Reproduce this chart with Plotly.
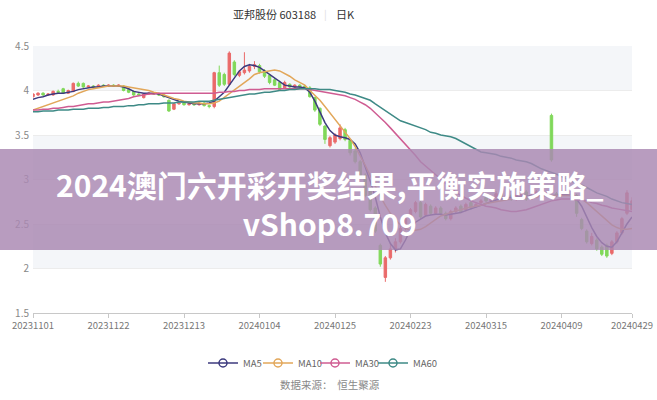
import pandas as pd
import plotly.graph_objects as go

# ---------------- data ----------------
holidays = ["20240101", "20240209", "20240212", "20240213", "20240214",
            "20240215", "20240216", "20240404", "20240405"]
dates = [d.strftime("%Y%m%d") for d in pd.bdate_range("2023-11-01", "2024-04-29")
         if d.strftime("%Y%m%d") not in holidays]

tick_labels = ["20231101", "20231122", "20231213", "20240104", "20240125",
               "20240223", "20240315", "20240409", "20240429"]
y_ticks = [1.5, 2, 2.5, 3, 3.5, 4, 4.5]
y_tick_text = ["1.5", "2", "2.5", "3", "3.5", "4", "4.5"]

opens = [3.93, 3.95, 3.97, 3.95, 3.95, 3.99, 4.02, 3.97, 3.99, 4.08,
         4.08, 4.04, 4.05, 4.04, 4.06, 4.05, 4.06, 4.05, 4.05, 4.01,
         3.99, 3.96, 3.92, 3.96, 3.97, 3.96, 3.95, 3.89, 3.79, 3.85,
         3.86, 3.84, 3.85, 3.84, 3.86, 3.83, 3.82, 4.20, 4.18, 4.07,
         4.32, 4.17, 4.20, 4.22, 4.27, 4.28, 4.22, 4.17, 4.12, 4.09,
         4.03, 4.07, 4.04, 4.06, 4.05, 4.03, 3.92, 3.80, 3.60, 3.38,
         3.42, 3.46, 3.56, 3.44, 3.32, 3.20, 3.05, 2.90, 2.68, 2.26,
         1.90, 2.12, 2.22, 2.30, 2.45, 2.56, 2.64, 2.74, 2.60, 2.70,
         2.62, 2.68, 2.62, 2.56, 2.64, 2.70, 2.66, 2.74, 2.70, 2.74,
         2.80, 2.76, 2.80, 2.84, 2.80, 2.82, 2.78, 2.82, 2.86, 2.78,
         2.80, 2.86, 2.82, 3.72, 2.84, 2.82, 2.84, 2.80, 2.82, 2.55,
         2.42, 2.28, 2.32, 2.24, 2.26, 2.17, 2.30, 2.40, 2.62, 2.66]
closes = [3.96, 3.97, 3.95, 3.96, 3.99, 3.98, 3.97, 4.00, 4.08, 4.05,
          4.04, 4.05, 4.04, 4.06, 4.05, 4.06, 4.05, 4.06, 4.00, 3.98,
          3.95, 3.95, 3.96, 3.97, 3.96, 3.95, 3.93, 3.77, 3.85, 3.86,
          3.84, 3.85, 3.84, 3.86, 3.83, 3.82, 4.20, 4.06, 4.07, 4.42,
          4.18, 4.21, 4.23, 4.27, 4.29, 4.21, 4.16, 4.09, 4.06, 4.01,
          4.09, 4.04, 4.06, 4.04, 4.03, 3.93, 3.78, 3.62, 3.45, 3.47,
          3.50, 3.58, 3.45, 3.30, 3.20, 3.04, 2.82, 2.66, 2.42, 2.05,
          2.12, 2.22, 2.30, 2.45, 2.56, 2.66, 2.74, 2.58, 2.72, 2.62,
          2.68, 2.62, 2.56, 2.64, 2.68, 2.64, 2.72, 2.68, 2.72, 2.76,
          2.76, 2.80, 2.84, 2.80, 2.82, 2.78, 2.82, 2.86, 2.78, 2.82,
          2.86, 2.82, 2.84, 3.22, 2.82, 2.84, 2.86, 2.88, 2.62, 2.45,
          2.30, 2.36, 2.22, 2.16, 2.14, 2.30, 2.40, 2.56, 2.85, 2.76]
highs = [3.97, 3.98, 3.98, 3.97, 4.00, 4.01, 4.03, 4.01, 4.09, 4.10,
         4.09, 4.06, 4.06, 4.07, 4.07, 4.07, 4.07, 4.07, 4.06, 4.02,
         4.00, 3.97, 3.97, 3.98, 3.98, 3.97, 3.96, 3.90, 3.86, 3.87,
         3.87, 3.86, 3.86, 3.87, 3.87, 3.84, 4.21, 4.28, 4.20, 4.44,
         4.34, 4.23, 4.43, 4.30, 4.33, 4.30, 4.24, 4.18, 4.14, 4.11,
         4.11, 4.08, 4.07, 4.07, 4.06, 4.05, 3.93, 3.81, 3.61, 3.49,
         3.52, 3.62, 3.58, 3.45, 3.35, 3.22, 3.07, 2.92, 2.70, 2.28,
         2.14, 2.29, 2.34, 2.48, 2.58, 2.68, 2.76, 2.76, 2.74, 2.72,
         2.70, 2.70, 2.64, 2.66, 2.70, 2.72, 2.74, 2.76, 2.74, 2.78,
         2.82, 2.82, 2.87, 2.86, 2.84, 2.84, 2.84, 2.88, 2.88, 2.84,
         2.88, 2.88, 2.86, 3.74, 2.86, 2.86, 2.88, 2.90, 2.84, 2.57,
         2.44, 2.40, 2.34, 2.26, 2.28, 2.32, 2.42, 2.58, 2.88, 2.80]
lows = [3.92, 3.94, 3.94, 3.94, 3.94, 3.97, 3.96, 3.96, 3.98, 4.04,
        4.03, 4.03, 4.03, 4.03, 4.04, 4.04, 4.04, 4.04, 3.99, 3.97,
        3.94, 3.94, 3.91, 3.95, 3.95, 3.94, 3.92, 3.76, 3.78, 3.84,
        3.83, 3.83, 3.83, 3.83, 3.82, 3.80, 3.80, 4.04, 4.05, 4.06,
        4.16, 4.15, 4.18, 4.20, 4.24, 4.19, 4.14, 4.07, 4.05, 4.00,
        4.02, 4.03, 4.03, 4.03, 4.02, 3.92, 3.76, 3.60, 3.40, 3.36,
        3.40, 3.44, 3.43, 3.27, 3.18, 3.02, 2.80, 2.64, 2.40, 2.02,
        1.85, 2.10, 2.18, 2.28, 2.43, 2.54, 2.62, 2.56, 2.58, 2.60,
        2.60, 2.60, 2.54, 2.54, 2.62, 2.62, 2.64, 2.66, 2.68, 2.72,
        2.74, 2.74, 2.78, 2.78, 2.78, 2.76, 2.76, 2.80, 2.76, 2.77,
        2.79, 2.80, 2.80, 3.20, 2.80, 2.80, 2.82, 2.78, 2.58, 2.43,
        2.28, 2.26, 2.20, 2.14, 2.12, 2.15, 2.28, 2.38, 2.60, 2.66]

ma5 = [3.90, 3.92, 3.93, 3.95, 3.96, 3.97, 3.97, 3.98, 3.99, 4.01,
       4.02, 4.03, 4.04, 4.04, 4.05, 4.05, 4.05, 4.05, 4.04, 4.02,
       3.99, 3.98, 3.97, 3.97, 3.97, 3.96, 3.94, 3.92, 3.90, 3.88,
       3.87, 3.86, 3.85, 3.85, 3.85, 3.86, 3.88, 3.93, 3.98, 4.06,
       4.14, 4.22, 4.27, 4.29, 4.28, 4.26, 4.22, 4.18, 4.13, 4.09,
       4.06, 4.05, 4.04, 4.04, 4.03, 3.98, 3.88, 3.76, 3.64, 3.55,
       3.50, 3.48, 3.47, 3.45, 3.40, 3.30, 3.15, 2.98, 2.80, 2.58,
       2.40, 2.28, 2.21, 2.22, 2.32, 2.44, 2.52, 2.56, 2.59, 2.60,
       2.61, 2.61, 2.60, 2.61, 2.62, 2.63, 2.65, 2.67, 2.69, 2.71,
       2.73, 2.75, 2.77, 2.78, 2.79, 2.80, 2.80, 2.81, 2.81, 2.82,
       2.82, 2.82, 2.82, 2.82, 2.82, 2.83, 2.83, 2.82, 2.78, 2.70,
       2.58, 2.46, 2.36, 2.29, 2.25, 2.24, 2.30, 2.40, 2.50, 2.58]
ma10 = [3.78, 3.80, 3.82, 3.84, 3.86, 3.88, 3.90, 3.92, 3.94, 3.97,
        3.99, 4.01, 4.02, 4.03, 4.04, 4.05, 4.05, 4.05, 4.05, 4.04,
        4.03, 4.02, 4.01, 4.00, 3.98, 3.97, 3.95, 3.93, 3.91, 3.90,
        3.88, 3.87, 3.86, 3.86, 3.85, 3.85, 3.86, 3.88, 3.92, 3.97,
        4.01, 4.05, 4.09, 4.13, 4.18, 4.20, 4.21, 4.22, 4.23, 4.22,
        4.19, 4.16, 4.12, 4.09, 4.06, 4.00, 3.95, 3.89, 3.82, 3.75,
        3.68, 3.61, 3.54, 3.46, 3.37, 3.27, 3.16, 3.04, 2.92, 2.81,
        2.71, 2.62, 2.55, 2.49, 2.45, 2.43, 2.43, 2.44, 2.47, 2.51,
        2.56, 2.59, 2.61, 2.63, 2.65, 2.66, 2.68, 2.69, 2.70, 2.71,
        2.73, 2.74, 2.75, 2.76, 2.77, 2.78, 2.79, 2.80, 2.80, 2.81,
        2.81, 2.81, 2.82, 2.82, 2.82, 2.82, 2.82, 2.82, 2.81, 2.78,
        2.74, 2.69, 2.64, 2.58, 2.53, 2.49, 2.46, 2.44, 2.44, 2.45]
ma30 = [3.78, 3.78, 3.79, 3.79, 3.80, 3.80, 3.81, 3.82, 3.82, 3.83,
        3.84, 3.85, 3.85, 3.86, 3.87, 3.87, 3.88, 3.89, 3.90, 3.91,
        3.93, 3.94, 3.95, 3.96, 3.96, 3.97, 3.97, 3.97, 3.97, 3.97,
        3.97, 3.97, 3.97, 3.97, 3.97, 3.97, 3.97, 3.98, 3.98, 3.99,
        3.99, 4.00, 4.00, 4.01, 4.01, 4.01, 4.02, 4.02, 4.02, 4.02,
        4.02, 4.02, 4.02, 4.02, 4.02, 4.01, 4.00, 3.99, 3.98, 3.97,
        3.96, 3.95, 3.94, 3.92, 3.90, 3.87, 3.84, 3.80, 3.75, 3.69,
        3.64, 3.58, 3.52, 3.45, 3.39, 3.33, 3.27, 3.20, 3.15, 3.10,
        3.05, 3.00, 2.95, 2.91, 2.86, 2.82, 2.79, 2.76, 2.74, 2.72,
        2.70, 2.69, 2.68, 2.66, 2.65, 2.64, 2.64, 2.65, 2.66, 2.68,
        2.70, 2.72, 2.74, 2.76, 2.77, 2.78, 2.78, 2.78, 2.77, 2.77,
        2.76, 2.74, 2.73, 2.71, 2.70, 2.68, 2.67, 2.66, 2.65, 2.64]
ma60 = [3.76, 3.76, 3.77, 3.77, 3.77, 3.78, 3.78, 3.78, 3.79, 3.79,
        3.79, 3.80, 3.80, 3.80, 3.81, 3.81, 3.82, 3.82, 3.82, 3.83,
        3.83, 3.84, 3.84, 3.85, 3.85, 3.85, 3.86, 3.86, 3.86, 3.87,
        3.87, 3.87, 3.87, 3.88, 3.88, 3.88, 3.89, 3.90, 3.91, 3.92,
        3.93, 3.94, 3.95, 3.96, 3.96, 3.97, 3.98, 3.98, 3.99, 4.00,
        4.00, 4.01, 4.01, 4.02, 4.02, 4.02, 4.02, 4.01, 4.01, 4.01,
        4.00, 3.99, 3.98, 3.96, 3.95, 3.93, 3.91, 3.89, 3.85, 3.81,
        3.77, 3.73, 3.69, 3.66, 3.64, 3.62, 3.60, 3.58, 3.56, 3.53,
        3.52, 3.50, 3.49, 3.48, 3.46, 3.43, 3.40, 3.37, 3.34, 3.31,
        3.30, 3.29, 3.28, 3.26, 3.25, 3.24, 3.22, 3.21, 3.20, 3.18,
        3.15, 3.12, 3.10, 3.08, 3.06, 3.03, 3.01, 2.98, 2.96, 2.94,
        2.91, 2.88, 2.85, 2.83, 2.81, 2.78, 2.76, 2.74, 2.73, 2.72]

ma_names = ["MA5", "MA10", "MA30", "MA60"]
ma_series = [ma5, ma10, ma30, ma60]
ma_colors = ["#3c3a7e", "#e2a75a", "#cf5c92", "#3e8a86"]

# ---------------- figure ----------------
W, H = 657, 400
PL, PR, PT, PB = 33, 632, 46, 313    # plot area in pixels
PW, PH = PR - PL, PB - PT


def px_x(p):
    return (p - PL) / PW


def px_y(p):
    return (PB - p) / PH


fig = go.Figure()

fig.add_trace(go.Candlestick(
    x=dates, open=opens, high=highs, low=lows, close=closes,
    increasing=dict(line=dict(color="#ea6a6a", width=1), fillcolor="#ea6a6a"),
    decreasing=dict(line=dict(color="#80d85a", width=1), fillcolor="#80d85a"),
    whiskerwidth=0, showlegend=False, hoverinfo="skip",
))

legend_ids = ["legend", "legend2", "legend3", "legend4"]
legend_sym_centers = [225, 280, 337, 395]
for name, vals, col, lid in zip(ma_names, ma_series, ma_colors, legend_ids):
    fig.add_trace(go.Scatter(x=dates, y=vals, mode="lines", name=name,
                             line=dict(color=col, width=1.5), showlegend=False,
                             hoverinfo="skip"))
    fig.add_trace(go.Scatter(x=[None], y=[None], mode="lines+markers", name=name,
                             line=dict(color=col, width=1.5),
                             marker=dict(symbol="circle-open", size=8, color=col,
                                         line=dict(width=1.5, color=col)),
                             showlegend=True, legend=lid))

shapes = []
for lo, hi in [(4.0, 4.5), (3.0, 3.5), (2.0, 2.5)]:
    shapes.append(dict(type="rect", xref="paper", yref="y", x0=0, x1=1, y0=lo, y1=hi,
                       fillcolor="#f4f6f9", line=dict(width=0), layer="below"))
# promotional banner across the full width
shapes.append(dict(type="rect", xref="paper", yref="paper",
                   x0=px_x(0), x1=px_x(W), y0=px_y(250), y1=px_y(149),
                   fillcolor="rgba(170,136,178,0.83)", line=dict(width=0), layer="above"))


def ann(text, x, y, size, color, **kw):
    return dict(text=text, x=px_x(x), y=px_y(y), xref="paper", yref="paper",
                xanchor="center", yanchor="middle", showarrow=False, borderpad=0,
                font=dict(size=size, color=color, family="Noto Sans CJK SC"), **kw)


annotations = [
    ann("亚邦股份 603188", 274, 14, 11, "#333"),
    ann("|", 325, 14, 10, "#ddd"),
    ann("日K", 345, 14, 11, "#333"),
    ann("数据来源：  恒生聚源", 330, 384, 10.5, "#888"),
    ann("<b>2024澳门六开彩开奖结果,平衡实施策略_<br>vShop8.709</b>", 330, 203, 30, "white"),
]

legend_layout = {}
for lid, cx in zip(legend_ids, legend_sym_centers):
    legend_layout[lid] = dict(orientation="h", x=px_x(cx - 22), y=px_y(363),
                              xanchor="left", yanchor="middle",
                              font=dict(size=9.5, color="#666"),
                              bgcolor="rgba(0,0,0,0)", itemwidth=30)

fig.update_layout(
    width=W, height=H,
    margin=dict(l=PL, r=W - PR, t=PT, b=H - PB, autoexpand=False),
    paper_bgcolor="white", plot_bgcolor="white",
    font=dict(family="Noto Sans CJK SC", color="#777"),
    shapes=shapes, annotations=annotations,
    xaxis=dict(type="category", range=[0, len(dates) - 1], automargin=False,
               tickmode="array", tickvals=tick_labels, ticktext=tick_labels,
               showline=True, linecolor="#c8c8c8", linewidth=1,
               ticks="outside", ticklen=4, tickcolor="#c8c8c8",
               showgrid=False, tickfont=dict(size=9.5, color="#777"),
               rangeslider=dict(visible=False)),
    yaxis=dict(range=[1.5, 4.5], tickmode="array", tickvals=y_ticks, ticktext=y_tick_text,
               automargin=False,
               showgrid=True, gridcolor="#ececec", zeroline=False, showline=False,
               tickfont=dict(size=10, color="#888"), ticklabelstandoff=3),
    **legend_layout,
)

fig.write_html("out.html", config={"displayModeBar": False},
               post_script="document.body.style.margin='0px';")
